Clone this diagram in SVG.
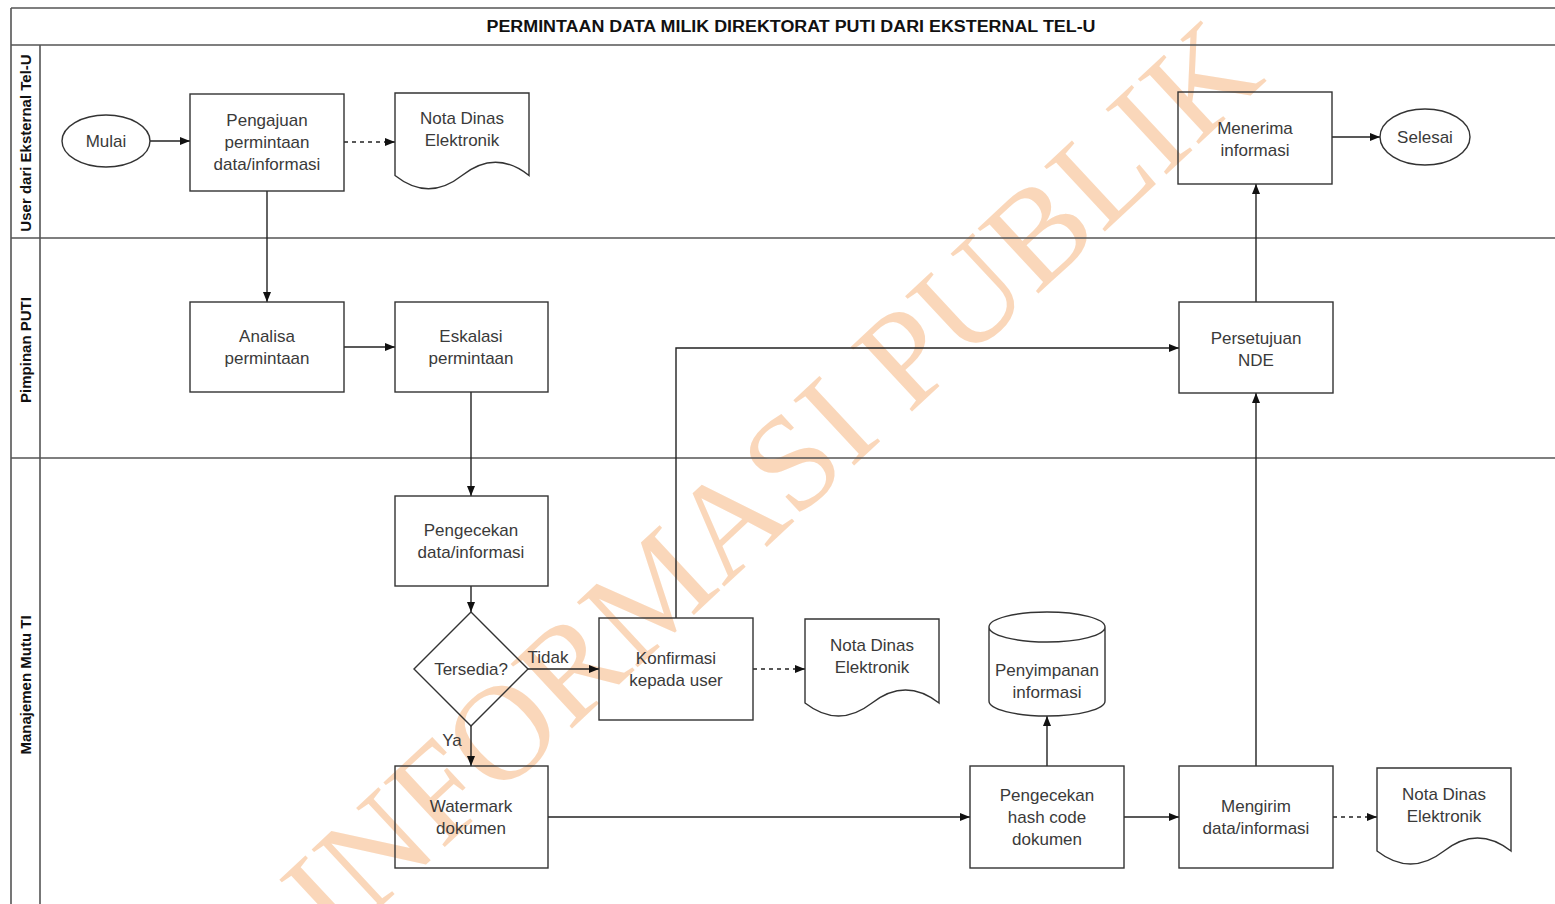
<svg xmlns="http://www.w3.org/2000/svg" width="1555" height="904" viewBox="0 0 1555 904">
<defs>
<marker id="arr" viewBox="0 0 10 10" refX="10" refY="5" markerWidth="10" markerHeight="10" markerUnits="userSpaceOnUse" orient="auto">
<path d="M0,1 L10,5 L0,9 Z" fill="#111"/>
</marker>
<style>
.pool{fill:none;stroke:#555;stroke-width:1.6}
.shape{fill:none;stroke:#333;stroke-width:1.4}
.t{font-family:"Liberation Sans",Arial,sans-serif;font-size:17px;fill:#3a3a3a;text-anchor:middle}
.lane{font-family:"Liberation Sans",Arial,sans-serif;font-size:15px;font-weight:bold;fill:#111;text-anchor:middle}
.title{font-family:"Liberation Sans",Arial,sans-serif;font-size:16px;font-weight:bold;fill:#111;text-anchor:middle}
.c{fill:none;stroke:#222;stroke-width:1.4}
.d{fill:none;stroke:#222;stroke-width:1.4;stroke-dasharray:4 4}
.wm{font-family:"Liberation Serif","Times New Roman",serif;font-size:136px;fill:#f7b883;opacity:0.55}
</style>
</defs>
<rect width="1555" height="904" fill="#fff"/>
<text class="wm" x="802" y="514" text-anchor="middle" transform="rotate(-43 802 514)">INFORMASI PUBLIK</text>
<g id="pool">
<path class="pool" d="M11,8 H1555 M11,45 H1555 M11,238 H1555 M11,458 H1555 M11,8 V904 M40,45 V904"/>
<text class="title" x="791" y="32" textLength="609" lengthAdjust="spacingAndGlyphs">PERMINTAAN DATA MILIK DIREKTORAT PUTI DARI EKSTERNAL TEL-U</text>
<text class="lane" transform="translate(31,143) rotate(-90)">User dari Eksternal Tel-U</text>
<text class="lane" transform="translate(31,350) rotate(-90)">Pimpinan PUTI</text>
<text class="lane" transform="translate(31,685) rotate(-90)">Manajemen Mutu TI</text>
</g>
<g id="connectors">
<path class="c" d="M150,141 H190" marker-end="url(#arr)"/>
<path class="d" d="M344,142 H395" marker-end="url(#arr)"/>
<path class="c" d="M267,191 V302" marker-end="url(#arr)"/>
<path class="c" d="M344,347 H395" marker-end="url(#arr)"/>
<path class="c" d="M471,392 V496" marker-end="url(#arr)"/>
<path class="c" d="M471,586 V612" marker-end="url(#arr)"/>
<path class="c" d="M528,669 H599" marker-end="url(#arr)"/>
<text class="t" x="548" y="663">Tidak</text>
<path class="c" d="M471,726 V766" marker-end="url(#arr)"/>
<text class="t" x="452" y="746">Ya</text>
<path class="d" d="M753,669 H805" marker-end="url(#arr)"/>
<path class="c" d="M676,618 V348 H1179" marker-end="url(#arr)"/>
<path class="c" d="M548,817 H970" marker-end="url(#arr)"/>
<path class="c" d="M1047,766 V716" marker-end="url(#arr)"/>
<path class="c" d="M1124,817 H1179" marker-end="url(#arr)"/>
<path class="d" d="M1333,817 H1377" marker-end="url(#arr)"/>
<path class="c" d="M1256,766 V393" marker-end="url(#arr)"/>
<path class="c" d="M1256,302 V184" marker-end="url(#arr)"/>
<path class="c" d="M1332,137 H1380" marker-end="url(#arr)"/>
</g>
<g id="mulai"><ellipse class="shape" cx="106" cy="141" rx="44" ry="26"/><text class="t" x="106" y="147">Mulai</text></g>
<g id="pengajuan"><rect class="shape" x="190" y="94" width="154" height="97"/><text class="t" x="267" y="126">Pengajuan</text><text class="t" x="267" y="148">permintaan</text><text class="t" x="267" y="170">data/informasi</text></g>
<g id="nota1"><path class="shape" d="M395,93 H529 V175.5 Q495.5,149 462,175.5 Q428.5,202 395,175.5 Z"/><text class="t" x="462" y="124">Nota Dinas</text><text class="t" x="462" y="146">Elektronik</text></g>
<g id="menerima"><rect class="shape" x="1178" y="92" width="154" height="92"/><text class="t" x="1255" y="134">Menerima</text><text class="t" x="1255" y="156">informasi</text></g>
<g id="selesai"><ellipse class="shape" cx="1425" cy="137" rx="45" ry="28"/><text class="t" x="1425" y="143">Selesai</text></g>
<g id="analisa"><rect class="shape" x="190" y="302" width="154" height="90"/><text class="t" x="267" y="342">Analisa</text><text class="t" x="267" y="364">permintaan</text></g>
<g id="eskalasi"><rect class="shape" x="395" y="302" width="153" height="90"/><text class="t" x="471" y="342">Eskalasi</text><text class="t" x="471" y="364">permintaan</text></g>
<g id="persetujuan"><rect class="shape" x="1179" y="302" width="154" height="91"/><text class="t" x="1256" y="344">Persetujuan</text><text class="t" x="1256" y="366">NDE</text></g>
<g id="pengecekan"><rect class="shape" x="395" y="496" width="153" height="90"/><text class="t" x="471" y="536">Pengecekan</text><text class="t" x="471" y="558">data/informasi</text></g>
<g id="tersedia"><path class="shape" d="M471,612 L528,669 L471,726 L414,669 Z"/><text class="t" x="471" y="675">Tersedia?</text></g>
<g id="konfirmasi"><rect class="shape" x="599" y="618" width="154" height="102"/><text class="t" x="676" y="664">Konfirmasi</text><text class="t" x="676" y="686">kepada user</text></g>
<g id="nota2"><path class="shape" d="M805,619 H939 V703 Q905.5,677 872,703 Q838.5,729 805,703 Z"/><text class="t" x="872" y="651">Nota Dinas</text><text class="t" x="872" y="673">Elektronik</text></g>
<g id="penyimpanan"><path class="shape" d="M989,627 A58,15 0 0 1 1105,627 V701 A58,15 0 0 1 989,701 Z M989,627 A58,15 0 0 0 1105,627"/><text class="t" x="1047" y="676">Penyimpanan</text><text class="t" x="1047" y="698">informasi</text></g>
<g id="watermark"><rect class="shape" x="395" y="766" width="153" height="102"/><text class="t" x="471" y="812">Watermark</text><text class="t" x="471" y="834">dokumen</text></g>
<g id="hash"><rect class="shape" x="970" y="766" width="154" height="102"/><text class="t" x="1047" y="801">Pengecekan</text><text class="t" x="1047" y="823">hash code</text><text class="t" x="1047" y="845">dokumen</text></g>
<g id="mengirim"><rect class="shape" x="1179" y="766" width="154" height="102"/><text class="t" x="1256" y="812">Mengirim</text><text class="t" x="1256" y="834">data/informasi</text></g>
<g id="nota3"><path class="shape" d="M1377,768 H1511 V851 Q1477.5,825 1444,851 Q1410.5,877 1377,851 Z"/><text class="t" x="1444" y="800">Nota Dinas</text><text class="t" x="1444" y="822">Elektronik</text></g>
</svg>
